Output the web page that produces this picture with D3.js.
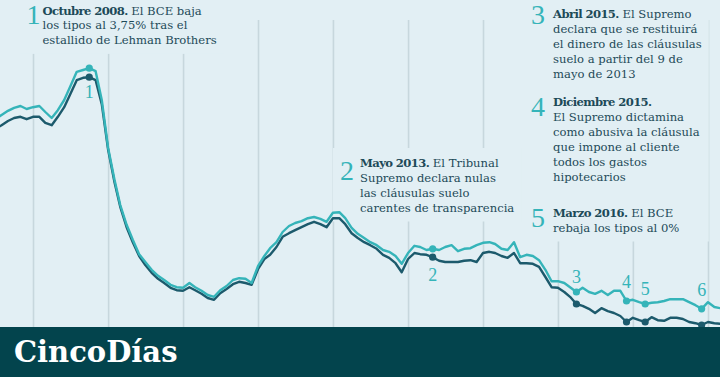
<!DOCTYPE html>
<html>
<head>
<meta charset="utf-8">
<script src="https://cdn.jsdelivr.net/npm/d3@7"></script>
<style>
  html, body { margin: 0; padding: 0; background: #e2eff4; }
  svg { display: block; }
</style>
</head>
<body>
<svg width="720" height="377"></svg>
<script>
// Serie mensual: julio 2007 - marzo 2017 (valores en %)
const primerMes = new Date(2007, 6, 1);
const ultimoMes = new Date(2017, 2, 1);

const serieClara = [
  5.48, 5.55, 5.62, 5.67, 5.70, 5.65,
  5.68, 5.70, 5.60, 5.50, 5.63, 5.80, 6.03, 6.27, 6.30, 6.33, 6.28, 5.80,
  5.00, 4.47, 4.05, 3.72, 3.47, 3.23, 3.10, 2.97, 2.87, 2.80, 2.72, 2.68,
  2.67, 2.75, 2.68, 2.62, 2.55, 2.52, 2.63, 2.70, 2.80, 2.83, 2.82, 2.75,
  3.03, 3.20, 3.33, 3.43, 3.60, 3.70, 3.75, 3.78, 3.83, 3.85, 3.82, 3.77,
  3.92, 3.93, 3.83, 3.67, 3.57, 3.50, 3.43, 3.38, 3.30, 3.27, 3.20, 3.07,
  3.25, 3.37, 3.35, 3.30, 3.32, 3.30, 3.35, 3.38, 3.28, 3.32, 3.33, 3.38,
  3.42, 3.43, 3.40, 3.32, 3.30, 3.43, 3.18, 3.22, 3.20, 3.13, 2.97, 2.78,
  2.78, 2.75, 2.68, 2.60, 2.67, 2.60, 2.57, 2.62, 2.55, 2.62, 2.62, 2.45,
  2.47, 2.43, 2.40, 2.42, 2.43, 2.45, 2.48, 2.48, 2.48, 2.43, 2.38, 2.32,
  2.43, 2.35, 2.33
];

const serieOscura = [
  5.32, 5.38, 5.45, 5.50, 5.52, 5.48,
  5.52, 5.52, 5.42, 5.38, 5.52, 5.68, 5.90, 6.13, 6.17, 6.18, 6.13, 5.73,
  4.97, 4.43, 4.02, 3.68, 3.43, 3.20, 3.05, 2.92, 2.82, 2.75, 2.67, 2.63,
  2.62, 2.68, 2.63, 2.57, 2.50, 2.47, 2.58, 2.65, 2.73, 2.77, 2.75, 2.72,
  2.98, 3.15, 3.22, 3.35, 3.52, 3.58, 3.63, 3.68, 3.73, 3.77, 3.73, 3.68,
  3.83, 3.83, 3.73, 3.58, 3.50, 3.43, 3.38, 3.32, 3.22, 3.17, 3.08, 2.93,
  3.15, 3.25, 3.23, 3.22, 3.18, 3.12, 3.10, 3.10, 3.10, 3.12, 3.13, 3.10,
  3.25, 3.27, 3.25, 3.20, 3.17, 3.25, 3.08, 3.08, 3.07, 3.02, 2.85, 2.68,
  2.67, 2.60, 2.52, 2.40, 2.37, 2.32, 2.25, 2.33, 2.28, 2.25, 2.20, 2.10,
  2.17, 2.13, 2.10, 2.18, 2.13, 2.12, 2.17, 2.17, 2.15, 2.10, 2.08, 2.05,
  2.10, 2.08, 2.07
];

// Hitos marcados sobre las líneas
const hitoMes = ["2008-10", "2013-05", "2015-04", "2015-12", "2016-03", "2016-12"];
const hitoNum = ["1", "2", "3", "4", "5", "6"];

// Notas de texto
const notaNum = ["1", "2", "3", "4", "5"];
const notaTitulo = ["Octubre 2008.", "Mayo 2013.", "Abril 2015.", "Diciembre 2015.", "Marzo 2016."];
const notaResto = [" El BCE baja", " El Tribunal", " El Supremo", "", " El BCE"];
const notaLineas = [
  ["los tipos al 3,75% tras el", "estallido de Lehman Brothers"],
  ["Supremo declara nulas", "las cláusulas suelo", "carentes de transparencia"],
  ["declara que se restituirá", "el dinero de las cláusulas", "suelo a partir del 9 de", "mayo de 2013"],
  ["El Supremo dictamina", "como abusiva la cláusula", "que impone al cliente", "todos los gastos", "hipotecarios"],
  ["rebaja los tipos al 0%"]
];

// ---- estilos y posiciones ----
const fondo = "#e2eff4";
const colorClaro = "#35b4b9";
const colorOscuro = "#1c5a6c";
const colorTexto = "#1d4a58";
const serif = "'DejaVu Serif', serif";
const serifFina = "'Liberation Serif', serif";

const notaPos = [
  { x: 42.5, y: 14.5, nx: 26.5, ny: 24, lh: 14.7 },
  { x: 360, y: 166.5, nx: 340, ny: 180, lh: 15 },
  { x: 553, y: 17.5, nx: 531, ny: 24, lh: 15 },
  { x: 553, y: 105.5, nx: 531, ny: 115.5, lh: 15 },
  { x: 553, y: 216.5, nx: 531, ny: 227, lh: 15 }
];
// desplazamiento vertical de la etiqueta de cada hito
const hitoDy = { "1": 21, "2": 24, "3": -9, "4": -13, "5": -9, "6": -13 };

const svg = d3.select("svg");
const width = +svg.attr("width");
const height = +svg.attr("height");
const pieAlto = 50;
const baseGrafico = height - pieAlto;

svg.append("rect").attr("width", width).attr("height", height).attr("fill", fondo);

const meses = d3.timeMonth.range(primerMes, d3.timeMonth.offset(ultimoMes, 1));
const datosClara = meses.map((d, i) => ({ fecha: d, v: serieClara[i] }));
const datosOscura = meses.map((d, i) => ({ fecha: d, v: serieOscura[i] }));

const x = d3.scaleTime()
  .domain([new Date(2008, 0, 1), new Date(2017, 0, 1)])
  .range([33, 708]);
const y = d3.scaleLinear().domain([2, 6.5]).range([328, 58]);

// Rejilla vertical por años
const rejilla = svg.append("g")
  .attr("transform", `translate(0,${baseGrafico})`)
  .call(d3.axisBottom(x)
    .ticks(d3.timeYear.every(1))
    .tickSize(-(baseGrafico - 20))
    .tickFormat(""));
rejilla.select(".domain").remove();
rejilla.selectAll("line").attr("stroke", "#c7d7dd").attr("stroke-width", 1.6);

// capas: fondos de notas, notas
const capaFondos = svg.append("g");
const capaNotas = svg.append("g");

const notas = capaNotas.selectAll("g.nota")
  .data(notaNum)
  .join("g")
  .attr("class", "nota");

notas.append("text")
  .attr("x", (d, i) => notaPos[i].nx)
  .attr("y", (d, i) => notaPos[i].ny)
  .attr("font-family", serifFina)
  .attr("font-size", 28)
  .attr("fill", colorClaro)
  .text(d => d);

notas.each(function(d, i) {
  const p = notaPos[i];
  const t = d3.select(this).append("text")
    .attr("font-family", serif)
    .attr("font-size", 11.6)
    .attr("fill", colorTexto);
  const l0 = t.append("tspan").attr("x", p.x).attr("y", p.y);
  l0.append("tspan").attr("font-weight", "bold").attr("letter-spacing", -0.6).text(notaTitulo[i]);
  l0.append("tspan").attr("letter-spacing", 0).text(notaResto[i]);
  notaLineas[i].forEach((linea, j) => {
    t.append("tspan").attr("x", p.x).attr("y", p.y + p.lh * (j + 1)).text(linea);
  });
});

// Fondos detrás de las notas para cortar la rejilla
const cajas = notas.nodes().map(n => n.getBBox());
const grupos = [[0], [1], [2, 3, 4]];
const pad = 7;
grupos.forEach(gr => {
  const x0 = d3.min(gr, k => cajas[k].x) - pad;
  const x1 = d3.max(gr, k => cajas[k].x + cajas[k].width) + pad;
  const y0 = d3.min(gr, k => cajas[k].y) - pad;
  const y1 = d3.max(gr, k => cajas[k].y + cajas[k].height) + pad;
  capaFondos.append("rect")
    .attr("x", x0).attr("y", y0)
    .attr("width", x1 - x0).attr("height", y1 - y0)
    .attr("fill", fondo);
});

// Líneas
const linea = d3.line().x(d => x(d.fecha)).y(d => y(d.v));

svg.append("path").datum(datosOscura)
  .attr("fill", "none").attr("stroke", colorOscuro)
  .attr("stroke-width", 2.4).attr("stroke-linejoin", "round")
  .attr("d", linea);
svg.append("path").datum(datosClara)
  .attr("fill", "none").attr("stroke", colorClaro)
  .attr("stroke-width", 2.4).attr("stroke-linejoin", "round")
  .attr("d", linea);

// Hitos
const parseMes = d3.timeParse("%Y-%m");
const hitos = hitoMes.map((m, i) => {
  const f = parseMes(m);
  const k = d3.timeMonth.count(primerMes, f);
  return { fecha: f, n: hitoNum[i], clara: serieClara[k], oscura: serieOscura[k] };
});

const gh = svg.append("g");
gh.selectAll("circle.osc").data(hitos).join("circle")
  .attr("class", "osc")
  .attr("cx", d => x(d.fecha)).attr("cy", d => y(d.oscura))
  .attr("r", 3.6).attr("fill", colorOscuro);
gh.selectAll("circle.cla").data(hitos).join("circle")
  .attr("class", "cla")
  .attr("cx", d => x(d.fecha)).attr("cy", d => y(d.clara))
  .attr("r", 3.6).attr("fill", colorClaro);
gh.selectAll("text").data(hitos).join("text")
  .attr("x", d => x(d.fecha))
  .attr("y", d => (hitoDy[d.n] > 0 ? y(d.oscura) : y(d.clara)) + hitoDy[d.n])
  .attr("text-anchor", "middle")
  .attr("font-family", serifFina)
  .attr("font-size", 18)
  .attr("fill", colorClaro)
  .text(d => d.n);

// Pie con la marca
svg.append("rect")
  .attr("x", 0).attr("y", baseGrafico)
  .attr("width", width).attr("height", pieAlto)
  .attr("fill", "#03444d");
svg.append("text")
  .attr("x", 14).attr("y", 362)
  .attr("font-family", serif)
  .attr("font-weight", "bold")
  .attr("font-size", 29)
  .attr("fill", "#ffffff")
  .text("CincoDías");
</script>
</body>
</html>
